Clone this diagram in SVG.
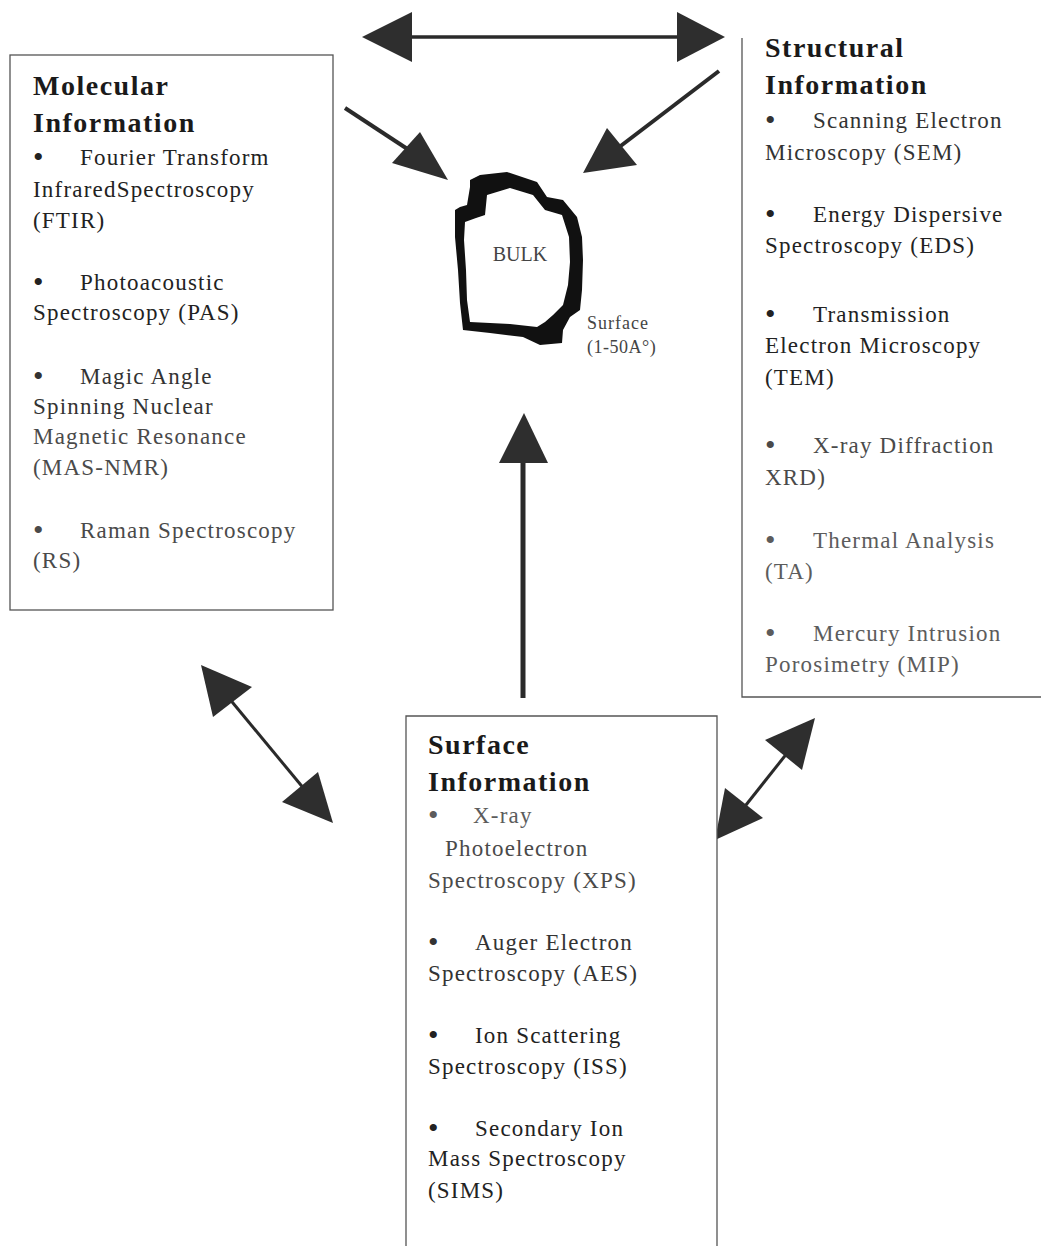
<svg xmlns="http://www.w3.org/2000/svg" width="1041" height="1246" viewBox="0 0 1041 1246">
<style>
.box{fill:#fff;stroke:#555;stroke-width:1.3}
.t{font-family:"Liberation Serif","Times New Roman",serif;font-weight:bold;font-size:28px;letter-spacing:1.5px;fill:#1a1a1a}
.b{font-family:"Liberation Serif","Times New Roman",serif;font-size:23px;letter-spacing:1.2px;fill:#222}
.d{font-size:30px;letter-spacing:0}
.g1{fill:#333}.g2{fill:#4a4a4a}.g3{fill:#5c5c5c}
.ln{stroke:#2a2a2a;fill:none}
.hd{fill:#2e2e2e}
.sm{font-family:"Liberation Serif","Times New Roman",serif;fill:#444}
</style>
<rect width="1041" height="1246" fill="#fff"/>
<g id="connectors">
  <line class="ln" x1="405" y1="37" x2="682" y2="37" stroke-width="3.5"/>
  <polygon class="hd" points="362,37 412,12 412,62"/>
  <polygon class="hd" points="725,37 677,12 677,62"/>
  <line class="ln" x1="345" y1="108" x2="412" y2="152" stroke-width="4"/>
  <polygon class="hd" points="448,180 392,163 420,132"/>
  <line class="ln" x1="719" y1="71" x2="618" y2="148" stroke-width="4"/>
  <polygon class="hd" points="583,173 637,165 607,128"/>
  <line class="ln" x1="523" y1="458" x2="523" y2="698" stroke-width="5"/>
  <polygon class="hd" points="524,413 499,463 548,463"/>
  <line class="ln" x1="228" y1="697" x2="305" y2="790" stroke-width="3"/>
  <polygon class="hd" points="201,665 252,687 213,717"/>
  <polygon class="hd" points="333,823 282,802 318,772"/>
  <line class="ln" x1="788" y1="752" x2="742" y2="810" stroke-width="3"/>
  <polygon class="hd" points="815,718 765,740 802,770"/>
  <polygon class="hd" points="715,840 725,788 763,818"/>
</g>
<g id="bulk">
  <polygon fill="#111" points="470,180 480,175 507,172 537,182 547,197 563,200 577,217 582,237 583,260 582,290 580,310 570,317 563,330 562,343 540,345 523,337 490,333 463,330 460,303 458,270 455,237 455,210 460,207 467,205 470,187"/>
  <polygon fill="#fff" points="485,215 487,195 510,188 533,195 545,210 562,215 569,237 570,262 568,285 563,305 553,315 545,322 537,327 510,324 470,322 467,300 466,270 464,240 465,222 476,218"/>
  <text class="sm" x="520" y="261" font-size="20" text-anchor="middle">BULK</text>
  <text class="sm" x="587" y="329" font-size="18" letter-spacing="1">Surface</text>
  <text class="sm" x="587" y="353" font-size="18" letter-spacing="0.5">(1-50A°)</text>
</g>
<g id="molecular">
  <rect class="box" x="10" y="55" width="323" height="555"/>
  <text class="t" x="33" y="95">Molecular</text>
  <text class="t" x="33" y="132">Information</text>
  <text class="b d" x="33" y="167">•</text><text class="b" x="80" y="165">Fourier Transform</text>
  <text class="b" x="33" y="197">InfraredSpectroscopy</text>
  <text class="b" x="33" y="228">(FTIR)</text>
  <text class="b d" x="33" y="292">•</text><text class="b" x="80" y="290">Photoacoustic</text>
  <text class="b" x="33" y="320">Spectroscopy (PAS)</text>
  <text class="b d g1" x="33" y="386">•</text><text class="b g1" x="80" y="384">Magic Angle</text>
  <text class="b g1" x="33" y="414">Spinning Nuclear</text>
  <text class="b g2" x="33" y="444">Magnetic Resonance</text>
  <text class="b g2" x="33" y="475">(MAS-NMR)</text>
  <text class="b d g2" x="33" y="540">•</text><text class="b g2" x="80" y="538">Raman Spectroscopy</text>
  <text class="b g2" x="33" y="568">(RS)</text>
</g>
<g id="structural">
  <path class="box" d="M742,38 V697 H1041" fill="none"/>
  <text class="t" x="765" y="57">Structural</text>
  <text class="t" x="765" y="94">Information</text>
  <text class="b d g1" x="765" y="130">•</text><text class="b g1" x="813" y="128">Scanning Electron</text>
  <text class="b g1" x="765" y="160">Microscopy (SEM)</text>
  <text class="b d" x="765" y="224">•</text><text class="b" x="813" y="222">Energy Dispersive</text>
  <text class="b" x="765" y="253">Spectroscopy (EDS)</text>
  <text class="b d" x="765" y="324">•</text><text class="b" x="813" y="322">Transmission</text>
  <text class="b" x="765" y="353">Electron Microscopy</text>
  <text class="b" x="765" y="385">(TEM)</text>
  <text class="b d g2" x="765" y="455">•</text><text class="b g2" x="813" y="453">X-ray Diffraction</text>
  <text class="b g2" x="765" y="485">XRD)</text>
  <text class="b d g3" x="765" y="550">•</text><text class="b g3" x="813" y="548">Thermal Analysis</text>
  <text class="b g3" x="765" y="579">(TA)</text>
  <text class="b d g3" x="765" y="643">•</text><text class="b g3" x="813" y="641">Mercury Intrusion</text>
  <text class="b g3" x="765" y="672">Porosimetry (MIP)</text>
</g>
<g id="surface">
  <path class="box" d="M406,1246 V716 H717 V1246" fill="none"/>
  <text class="t" x="428" y="754">Surface</text>
  <text class="t" x="428" y="791">Information</text>
  <text class="b d g3" x="428" y="825">•</text><text class="b g3" x="473" y="823">X-ray</text>
  <text class="b g2" x="445" y="856">Photoelectron</text>
  <text class="b g2" x="428" y="888">Spectroscopy (XPS)</text>
  <text class="b d g1" x="428" y="952">•</text><text class="b g1" x="475" y="950">Auger Electron</text>
  <text class="b g1" x="428" y="981">Spectroscopy (AES)</text>
  <text class="b d" x="428" y="1045">•</text><text class="b" x="475" y="1043">Ion Scattering</text>
  <text class="b" x="428" y="1074">Spectroscopy (ISS)</text>
  <text class="b d" x="428" y="1138">•</text><text class="b" x="475" y="1136">Secondary Ion</text>
  <text class="b" x="428" y="1166">Mass Spectroscopy</text>
  <text class="b" x="428" y="1198">(SIMS)</text>
</g>
</svg>
